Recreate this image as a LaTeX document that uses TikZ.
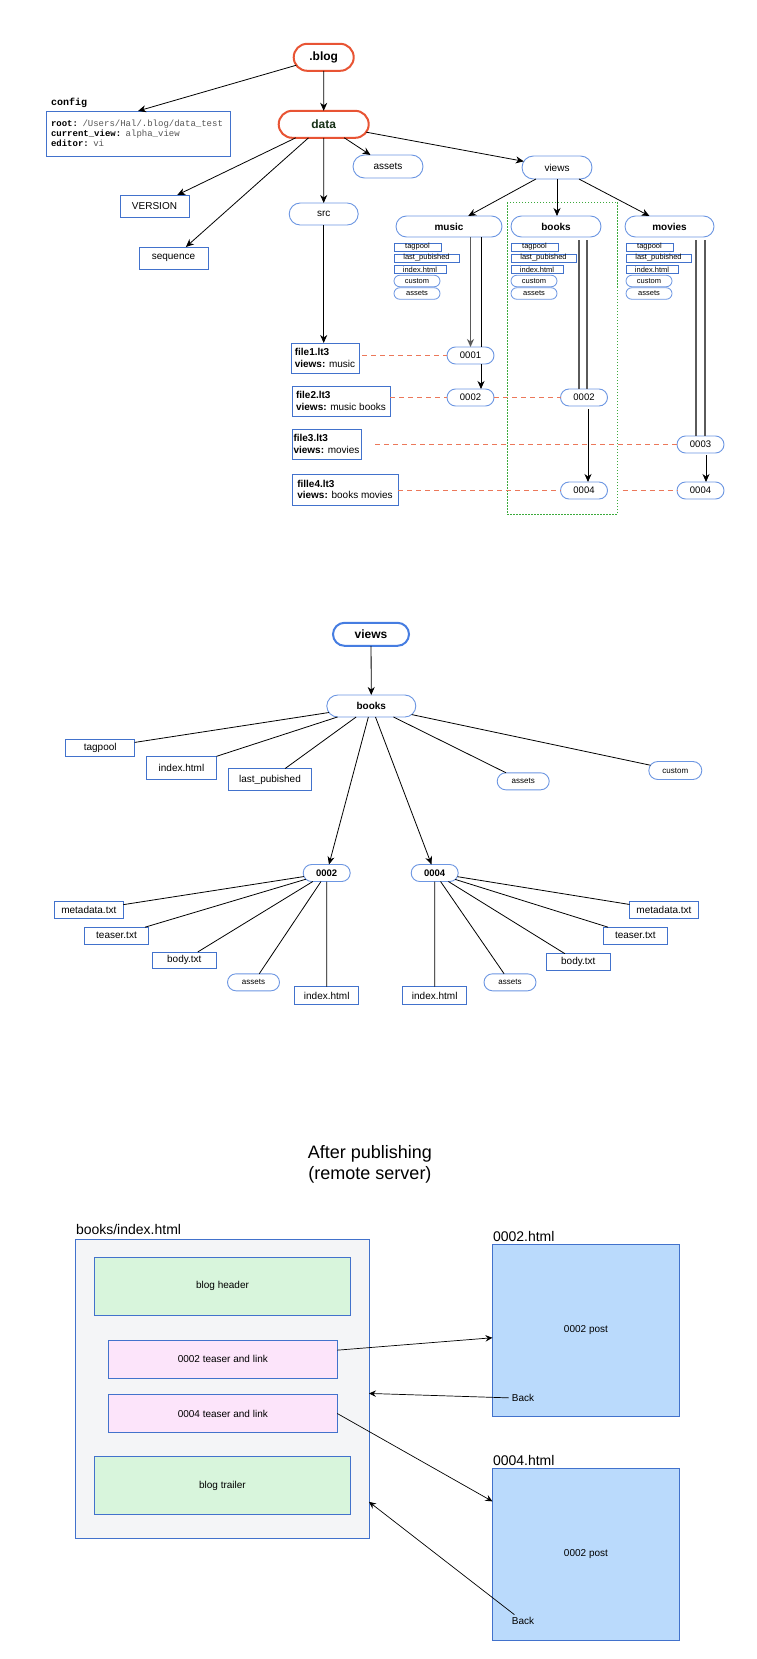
\documentclass[tikz,border=0pt]{standalone}
\usepackage{fontspec}
\setmainfont{Liberation Sans}
\newfontfamily\codefont{Liberation Mono}
\usetikzlibrary{arrows.meta,calc,shapes.misc}

\definecolor{boxblue}{RGB}{66,114,204}
\definecolor{pillblue}{RGB}{108,150,226}
\definecolor{headblue}{RGB}{70,125,225}
\definecolor{rootred}{RGB}{232,84,52}
\definecolor{dashred}{RGB}{236,120,90}
\definecolor{groupgreen}{RGB}{60,170,60}
\definecolor{datagreen}{RGB}{22,48,22}
\definecolor{valgray}{RGB}{85,85,85}
\definecolor{pairgray}{RGB}{90,90,90}
\definecolor{pagegray}{RGB}{244,245,247}
\definecolor{headgreen}{RGB}{216,245,220}
\definecolor{teaserpink}{RGB}{252,228,250}
\definecolor{postblue}{RGB}{186,218,252}

\newcommand\fsz[1]{\fontsize{#1}{#1}\selectfont}

% file list shown under each view
\newcommand\viewitems[2]{%
  \node[item, minimum width=47] (#1tag) at (#2+23.5,247) {tagpool};
  \node[item, minimum width=65] (#1last) at (#2+32.5,258) {last\_pubished};
  \node[item, minimum width=52] (#1index) at (#2+26,269.4) {index.html};
  \node[itempill] (#1custom) at (#2+23,281) {custom};
  \node[itempill] (#1assets) at (#2+23,293.5) {assets};
}

\begin{document}
\begin{tikzpicture}[x=1pt,y=-1pt,
  every node/.style={inner sep=0pt, outer sep=0pt},
  box/.style={draw=boxblue, line width=0.9pt, fill=white, rectangle, font=\fsz{10}},
  pill/.style={draw=pillblue, line width=0.9pt, fill=white, rounded rectangle, font=\fsz{10}},
  rootpill/.style={draw=rootred, line width=2pt, fill=white, rounded rectangle, font=\bfseries\fsz{12}},
  headpill/.style={draw=headblue, line width=2pt, fill=white, rounded rectangle, font=\bfseries\fsz{12}},
  item/.style={box, line width=0.8pt, font=\fsz{7.5}, minimum height=8},
  itempill/.style={pill, line width=0.8pt, font=\fsz{7.5}, minimum height=11.5, minimum width=46},
  post/.style={pill, minimum width=47, minimum height=17, font=\fsz{9.5}},
  filebox/.style={box, anchor=north west, align=left, font=\fontsize{10}{11.5}\selectfont},
  conn/.style={line width=0.8pt, black},
  arr/.style={conn, -{Stealth[length=8pt, width=7pt, inset=2.5pt]}},
  pair/.style={line width=1.1pt, pairgray},
  link/.style={line width=1pt, dashred, dash pattern=on 5pt off 4pt},
  group/.style={draw=groupgreen, line width=0.8pt, dash pattern=on 1.5pt off 1.5pt},
  pagebox/.style={draw=boxblue, line width=0.9pt, anchor=north west, font=\fsz{10}},
  thin arr/.style={line width=0.7pt, black, -{Stealth[length=7pt, width=6.5pt, inset=2.5pt]}}
]
\useasboundingbox (0,0) rectangle (756,1659);

% ================= data directory =================
\draw[group] (507,202) rectangle (617,514);

\node[rootpill, minimum width=60, minimum height=27] (blog) at (323.7,57.3) {.blog};
\node[rootpill, minimum width=90, minimum height=27, text=datagreen] (data) at (323.7,124.3) {data};

\node[anchor=west, font=\codefont\bfseries\fsz{10}] (configlabel) at (51,102.5) {config};
\node[box, anchor=north west, minimum width=184, minimum height=45, text width=174,
      inner xsep=5pt, align=left, font=\codefont\fontsize{9}{10.2}\selectfont] (config) at (46,111)
  {\textbf{root:} \textcolor{valgray}{/Users/Hal/.blog/data\_test}\\
   \textbf{current\_view:} \textcolor{valgray}{alpha\_view}\\
   \textbf{editor:} \textcolor{valgray}{vi}};

\node[box, minimum width=69, minimum height=22] (version) at (154.5,206) {VERSION};
\node[box, minimum width=69, minimum height=22] (sequence) at (173.5,258) {sequence};
\node[pill, minimum width=69, minimum height=22] (src) at (323.7,214) {src};
\node[pill, minimum width=70, minimum height=23] (assets) at (388,166.5) {assets};
\node[pill, minimum width=70, minimum height=23] (views) at (557,167.5) {views};

\node[pill, minimum width=106, minimum height=21, font=\bfseries\fsz{10}] (music) at (449,226.5) {music};
\node[pill, minimum width=90, minimum height=21, font=\bfseries\fsz{10}] (books) at (556,226.5) {books};
\node[pill, minimum width=89, minimum height=21, font=\bfseries\fsz{10}] (movies) at (669.5,226.5) {movies};

\viewitems{music}{394}
\viewitems{books}{511}
\viewitems{movies}{626}

\node[post] (m0001) at (470.5,355.5) {0001};
\node[post] (m0002) at (470.5,397.5) {0002};
\node[post] (b0002) at (584,397.5) {0002};
\node[post] (b0004) at (584,490.5) {0004};
\node[post] (v0003) at (700.5,444.5) {0003};
\node[post] (v0004) at (700.5,490.5) {0004};

\node[filebox, minimum width=68, minimum height=30] (file1) at (291,343) {\textbf{file1.lt3}\\\textbf{views:} music};
\node[filebox, minimum width=98, minimum height=30] (file2) at (292,386) {\textbf{file2.lt3}\\\textbf{views:} music books};
\node[filebox, minimum width=69, minimum height=30] (file3) at (292,429) {\textbf{file3.lt3}\\\textbf{views:} movies};
\node[filebox, minimum width=106, minimum height=31] (file4) at (292,474) {\textbf{fille4.lt3}\\\textbf{views:} books movies};

% tree connectors
\draw[arr] (blog) -- (config.north);
\draw[arr] (blog) -- (data);
\draw[arr] (data) -- (version);
\draw[arr] (data) -- (sequence);
\draw[arr] (data) -- (src);
\draw[arr] (data) -- (assets);
\draw[arr] (data) -- (views);
\draw[arr] (views) -- (music);
\draw[arr] (views.south) -- (views.south |- books.north);
\draw[arr] (views) -- (movies);
\draw[arr] (src.south) -- (src.south |- file1.north);

% posts reached from each view
\coordinate (mu1) at (m0001.north);
\coordinate (mu2) at ($(m0001.north)+(10.5,0)$);
\draw[pair, -{Stealth[length=8pt, width=7pt, inset=2.5pt]}] (mu1 |- music.south) -- (mu1);
\draw[conn] (mu2 |- music.south) -- (mu2);
\draw[arr] ($(m0001.south)+(10.5,0)$) -- ($(m0002.north)+(10.5,0)$);

\coordinate (bk1) at ($(b0002.north)+(-5,0)$);
\coordinate (bk2) at ($(b0002.north)+(3,0)$);
\draw[pair] ($(bk1 |- books.south)+(0,3)$) -- (bk1);
\draw[pair] ($(bk2 |- books.south)+(0,3)$) -- (bk2);
\draw[arr] ($(b0002.south)+(4,3)$) -- ($(b0004.north)+(4,0)$);

\coordinate (mv1) at ($(v0003.north)+(-4.5,0)$);
\coordinate (mv2) at ($(v0003.north)+(4.5,0)$);
\draw[pair] ($(mv1 |- movies.south)+(0,3)$) -- (mv1);
\draw[pair] ($(mv2 |- movies.south)+(0,3)$) -- (mv2);
\draw[arr] ($(v0003.south)+(5.5,2)$) -- ($(v0004.north)+(5.5,0)$);

% source files linked to their posts
\draw[link] ($(file1.east |- m0001.west)+(3,0)$) -- (m0001.west);
\draw[link] (file2.east |- m0002.west) -- (m0002.west);
\draw[link] (m0002.east) -- (b0002.west);
\draw[link] ($(file3.east |- v0003.west)+(14,0)$) -- (v0003.west);
\draw[link] (file4.east |- b0004.west) -- (b0004.west);
\draw[link] ($(b0004.east)+(15,0)$) -- (v0004.west);

% ================= one view in detail =================
\node[headpill, minimum width=76, minimum height=23] (views2) at (371,634.3) {views};
\node[pill, minimum width=89, minimum height=22, font=\bfseries\fsz{10}] (books2) at (371.3,706) {books};

\node[box, minimum width=69, minimum height=17] (tagpool2) at (100.2,747.7) {tagpool};
\node[box, minimum width=70, minimum height=23] (index2) at (181.5,767.7) {index.html};
\node[box, minimum width=83, minimum height=22] (lastpub2) at (270,779.5) {last\_pubished};
\node[pill, minimum width=52, minimum height=17, font=\fsz{8}] (assets2) at (523.2,781.3) {assets};
\node[pill, minimum width=53, minimum height=18, font=\fsz{8}] (custom2) at (675.3,770.5) {custom};

\node[post, font=\bfseries\fsz{9.5}] (p0002) at (326.7,873) {0002};
\node[post, font=\bfseries\fsz{9.5}] (p0004) at (434.7,873) {0004};

\node[box, minimum width=69, minimum height=17] (metaA) at (88.8,910) {metadata.txt};
\node[box, minimum width=64, minimum height=17] (teaserA) at (116.5,935.7) {teaser.txt};
\node[box, minimum width=64, minimum height=16.5] (bodyA) at (184.3,960.2) {body.txt};
\node[pill, minimum width=52, minimum height=17, font=\fsz{8}] (assetsA) at (253.5,982.3) {assets};
\node[box, minimum width=64, minimum height=17.6] (indexA) at (326.7,995.5) {index.html};

\node[box, minimum width=69, minimum height=17] (metaB) at (664,910) {metadata.txt};
\node[box, minimum width=64, minimum height=17] (teaserB) at (635.3,935.7) {teaser.txt};
\node[box, minimum width=64, minimum height=16.6] (bodyB) at (578.3,962) {body.txt};
\node[pill, minimum width=52, minimum height=17, font=\fsz{8}] (assetsB) at (510,982.3) {assets};
\node[box, minimum width=64, minimum height=17.6] (indexB) at (434.7,995.5) {index.html};

\draw[arr] (views2) -- (books2);
\draw[conn] (books2) -- (tagpool2);
\draw[conn] (books2) -- (index2);
\draw[conn] (books2) -- (lastpub2);
\draw[conn] (books2) -- (assets2);
\draw[conn] (books2) -- (custom2);
\draw[arr] (books2) -- (p0002);
\draw[arr] (books2) -- (p0004);

\draw[conn] (p0002) -- (metaA);
\draw[conn] (p0002) -- (teaserA);
\draw[conn] (p0002) -- (bodyA);
\draw[conn] (p0002) -- (assetsA);
\draw[conn] (p0002) -- (indexA);

\draw[conn] (p0004) -- (metaB);
\draw[conn] (p0004) -- (teaserB);
\draw[conn] (p0004) -- (bodyB);
\draw[conn] (p0004) -- (assetsB);
\draw[conn] (p0004) -- (indexB);

% ================= published pages =================
\node[align=center, font=\fontsize{18}{21}\selectfont] (title) at (370,1164) {After publishing\\(remote server)};

\node[anchor=west, font=\fsz{14}] (pagelabel) at (76,1229) {books/index.html};
\node[pagebox, fill=pagegray, minimum width=293.7, minimum height=299] (page) at (75.3,1239.3) {};
\node[pagebox, fill=headgreen, minimum width=256.4, minimum height=58] (header) at (94.3,1257.3) {};
\node[font=\fsz{10}] (headertext) at (header.center) {blog header};
\node[pagebox, fill=teaserpink, minimum width=229, minimum height=38] (teaser1) at (108.3,1340.3) {};
\node[font=\fsz{10}] (teaser1text) at (teaser1.center) {0002 teaser and link};
\node[pagebox, fill=teaserpink, minimum width=229, minimum height=37.6] (teaser2) at (108.3,1394.7) {};
\node[font=\fsz{10}] (teaser2text) at (teaser2.center) {0004 teaser and link};
\node[pagebox, fill=headgreen, minimum width=256.4, minimum height=57.6] (trailer) at (94.3,1456.7) {};
\node[font=\fsz{10}] (trailertext) at (trailer.center) {blog trailer};

\node[anchor=west, font=\fsz{14}] (post1label) at (493,1236) {0002.html};
\node[pagebox, fill=postblue, minimum width=187.1, minimum height=172] (post1) at (492.4,1244.3) {};
\node[font=\fsz{10}] (post1text) at (post1.center) {0002 post};
\node[font=\fsz{10}, inner sep=3pt] (back1) at (523,1398.3) {Back};

\node[anchor=west, font=\fsz{14}] (post2label) at (493,1460.7) {0004.html};
\node[pagebox, fill=postblue, minimum width=187.1, minimum height=171.7] (post2) at (492.4,1468.3) {};
\node[font=\fsz{10}] (post2text) at (post2.center) {0002 post};
\node[font=\fsz{10}, inner sep=3pt] (back2) at (523,1621.3) {Back};

\draw[thin arr] (teaser1) -- (post1);
\draw[thin arr] (teaser2.east) -- (post2);
\draw[thin arr] (back1) -- (page);
\draw[thin arr] (back2) -- (page);

\end{tikzpicture}
\end{document}
